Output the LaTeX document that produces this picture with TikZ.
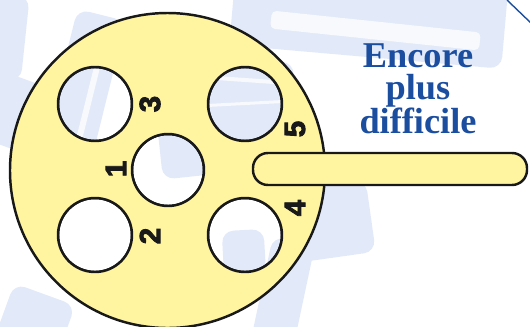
\documentclass[tikz,border=0pt]{standalone}
\usepackage{fontspec}
\setmainfont{Liberation Serif}
\newfontfamily\digitfont[BoldFeatures={FakeBold=3}]{Liberation Sans}
\usetikzlibrary{positioning}
\definecolor{discyellow}{RGB}{255,245,160}
\definecolor{titleblue}{RGB}{28,78,160}
\definecolor{ghostblue}{RGB}{226,233,249}

\begin{document}
\begin{tikzpicture}[x=0.03cm,y=-0.03cm,
    disc/.style={draw=black!90,line width=2.1pt,fill=discyellow},
    hole/.style={circle,draw=black!90,line width=2.1pt,minimum size=2.2cm,inner sep=0pt},
    num/.style={rotate=90,inner sep=0pt,text=black!90,font=\digitfont\bfseries\fontsize{25}{25}\selectfont},
    ghost/.style={fill=ghostblue,rounded corners=10pt},
    streak/.style={fill=white,opacity=0.75,rounded corners=4pt}]
    % Picture frame, in pixels of the reference
    \useasboundingbox (0,0) rectangle (530,326);
    \clip (0,0) rectangle (530,326);
    % Faint shapes in the background
    \fill[ghost,rotate around={-6:(12,40)}] (-10,-5) rectangle (25,80);
    \fill[ghost,rotate around={-14:(80,90)}] (58,12) rectangle (108,190);
    \fill[streak,rotate around={-14:(80,90)}] (88,40) rectangle (94,170);
    \fill[ghost,rotate around={-20:(20,120)}] (-20,80) rectangle (40,150);
    \fill[ghost,rotate around={-5:(380,20)}] (232,-30) rectangle (505,58);
    \fill[streak,rotate around={-6:(380,35)}] (270,22) rectangle (480,40);
    \fill[ghost,rotate around={-3:(245,100)}] (200,60) rectangle (292,150);
    \fill[streak,rotate around={-4:(245,80)}] (205,78) rectangle (285,82);
    \fill[streak,rotate around={3:(245,104)}] (205,102) rectangle (285,105);
    \fill[ghost,rotate around={6:(195,150)}] (160,120) rectangle (232,176);
    \fill[ghost,rotate around={8:(300,230)}] (280,190) rectangle (372,262);
    \fill[ghost,rotate around={3:(245,255)}] (223,230) rectangle (265,290);
    \fill[ghost,rotate around={-12:(285,290)}] (262,240) rectangle (305,345);
    \fill[ghost,rotate around={-20:(40,315)}] (5,294) rectangle (70,350);
    % The five holes, left open
    \foreach \name/\x/\y/\r in {h1/168/170/36, h2/95/235/37, h3/95/104/37, h4/245/235/37, h5/245/104/37} {
        \node[hole,minimum size=2*\r*0.03cm] (\name) at (\x,\y) {};
    }
    % The disc and its handle
    \coordinate (wheel) at (167.5,170.5);
    \path[disc,even odd rule] (wheel) circle[radius=157.5]
        (h1) circle[radius=36] (h2) circle[radius=37] (h3) circle[radius=37]
        (h4) circle[radius=37] (h5) circle[radius=37];
    \node[disc,rounded corners=0.45cm,minimum width=8.22cm,minimum height=0.96cm,inner sep=0pt] (handle) at (390,169) {};
    % Numbers beside the holes
    \node[num] (n1) at (116,169) {1};
    \node[num] (n2) at (150,236) {2};
    \node[num] (n3) at (150,104) {3};
    \node[num] (n4) at (295,208) {4};
    \node[num] (n5) at (295,129) {5};
    % Title
    \node[anchor=north,inner sep=0pt,align=center,text=titleblue,
          font=\bfseries\fontsize{31}{27.5}\selectfont] (title) at (418,43) {Encore\\plus\\difficile};
    % Corner of the frame
    \coordinate (c1) at (507,0);
    \coordinate (c2) at (532,24);
    \draw[titleblue,line width=1.2pt] (c1) -- (c2);
\end{tikzpicture}
\end{document}
